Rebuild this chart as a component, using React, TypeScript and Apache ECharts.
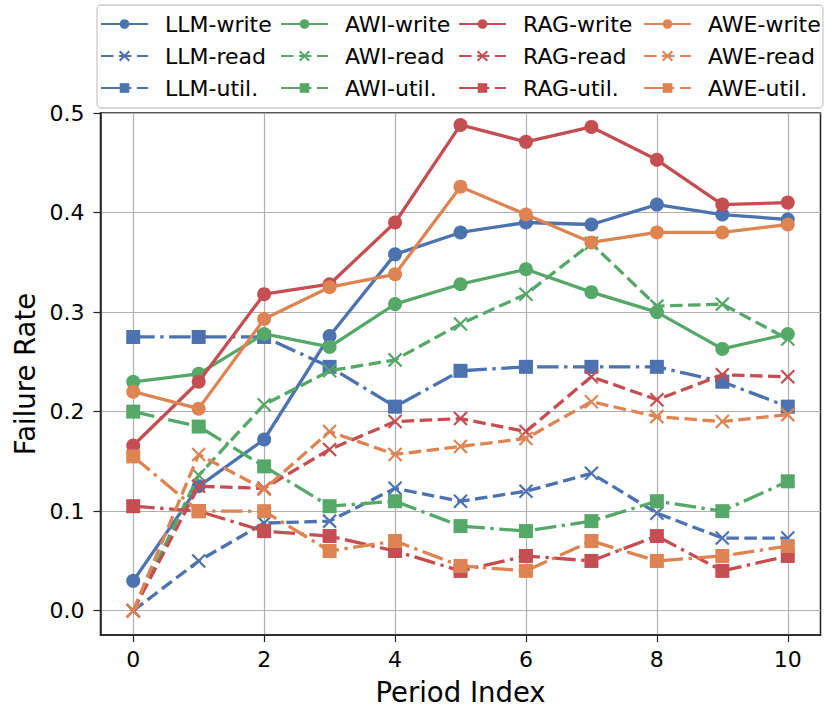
import React, { useEffect, useRef } from "react";
import * as echarts from "echarts";

const periods = [0, 1, 2, 3, 4, 5, 6, 7, 8, 9, 10];
const xTicks = [0, 2, 4, 6, 8, 10];
const yTicks = [0, 0.1, 0.2, 0.3, 0.4, 0.5];

const models = ["LLM", "AWI", "RAG", "AWE"];
const metrics = ["write", "read", "util."];

const llmWrite = [0.03, 0.125, 0.172, 0.276, 0.358, 0.38, 0.39, 0.388, 0.408, 0.398, 0.393];
const llmRead = [0.0, 0.05, 0.088, 0.09, 0.123, 0.11, 0.12, 0.138, 0.098, 0.073, 0.073];
const llmUtil = [0.275, 0.275, 0.275, 0.245, 0.205, 0.241, 0.245, 0.245, 0.245, 0.23, 0.205];

const awiWrite = [0.23, 0.238, 0.278, 0.265, 0.308, 0.328, 0.343, 0.32, 0.3, 0.263, 0.278];
const awiRead = [0.0, 0.136, 0.207, 0.241, 0.252, 0.288, 0.318, 0.369, 0.306, 0.308, 0.273];
const awiUtil = [0.2, 0.185, 0.145, 0.105, 0.11, 0.085, 0.08, 0.09, 0.11, 0.1, 0.13];

const ragWrite = [0.166, 0.23, 0.318, 0.328, 0.39, 0.488, 0.471, 0.486, 0.453, 0.408, 0.41];
const ragRead = [0.0, 0.125, 0.123, 0.162, 0.19, 0.193, 0.18, 0.235, 0.212, 0.237, 0.235];
const ragUtil = [0.105, 0.1, 0.08, 0.075, 0.06, 0.04, 0.055, 0.05, 0.075, 0.04, 0.055];

const aweWrite = [0.22, 0.203, 0.293, 0.325, 0.338, 0.426, 0.398, 0.37, 0.38, 0.38, 0.388];
const aweRead = [0.0, 0.157, 0.122, 0.18, 0.157, 0.165, 0.173, 0.21, 0.195, 0.19, 0.197];
const aweUtil = [0.155, 0.1, 0.1, 0.06, 0.07, 0.045, 0.04, 0.07, 0.05, 0.055, 0.065];

const values: Record<string, number[][]> = {
  LLM: [llmWrite, llmRead, llmUtil],
  AWI: [awiWrite, awiRead, awiUtil],
  RAG: [ragWrite, ragRead, ragUtil],
  AWE: [aweWrite, aweRead, aweUtil],
};

const colors: Record<string, string> = {
  LLM: "#4C72B0",
  AWI: "#55A868",
  RAG: "#C44E52",
  AWE: "#DD8452",
};

const FONT = "DejaVu Sans";
const X_SYMBOL = "path://M0,0L10,10M0,10L10,0";

export default function App() {
  const ref = useRef<HTMLDivElement>(null);

  useEffect(() => {
    if (!ref.current) return;
    const chart = echarts.init(ref.current, undefined, { renderer: "svg" });

    const series: any[] = [];
    let idx = 0;
    models.forEach((m) => {
      const c = colors[m];
      metrics.forEach((metric, k) => {
        const vals = values[m][k];
        const base: any = {
          name: `${m}-${metric}`,
          type: "line",
          data: periods.map((p, i) => [p, vals[i]]),
          z: 2 + idx * 0.01,
          color: c,
          showSymbol: true,
          emphasis: { disabled: true },
        };
        if (k === 0) {
          base.symbol = "circle";
          base.symbolSize = 14;
          base.lineStyle = { color: c, width: 3.3, type: "solid" };
          base.itemStyle = { color: c, borderWidth: 0 };
        } else if (k === 1) {
          base.symbol = X_SYMBOL;
          base.symbolSize = 13;
          base.lineStyle = { color: c, width: 3.3, type: [12.5, 5.5] };
          base.itemStyle = { color: c, borderColor: c, borderWidth: 2.2 };
        } else {
          base.symbol = "rect";
          base.symbolSize = 14;
          base.lineStyle = { color: c, width: 3.3, type: [21.5, 5.5, 3.4, 5.5] };
          base.itemStyle = { color: c, borderWidth: 0 };
        }
        series.push(base);
        idx++;
      });
    });

    const legendLefts = [100, 280, 458, 643];
    const legends = models.map((m, i) => ({
      orient: "vertical",
      left: legendLefts[i],
      top: 13,
      padding: 0,
      itemWidth: 47,
      itemHeight: 12,
      itemGap: 10,
      selectedMode: false,
      data: metrics.map((metric) => `${m}-${metric}`),
      textStyle: {
        fontFamily: FONT,
        fontSize: 22,
        lineHeight: 22,
        color: "#000",
        padding: [0, 0, 0, 12],
      },
    }));

    chart.setOption({
      animation: false,
      textStyle: { fontFamily: FONT },
      grid: {
        left: 100.5,
        right: 6.5,
        top: 113,
        bottom: 73.5,
        show: true,
        borderColor: "#222",
        borderWidth: 1.5,
        backgroundColor: "transparent",
      },
      graphic: [
        {
          type: "rect",
          z: 0,
          shape: { x: 97, y: 5, width: 726, height: 103, r: 4 },
          style: { fill: "rgba(255,255,255,0.8)", stroke: "#cccccc", lineWidth: 1.3 },
        },
      ],
      legend: legends,
      xAxis: {
        type: "value",
        min: -0.5,
        max: 10.5,
        minInterval: 2,
        maxInterval: 2,
        name: "Period Index",
        nameLocation: "middle",
        nameGap: 43,
        nameTextStyle: { fontFamily: FONT, fontSize: 27.5, color: "#000" },
        axisLine: { show: true, onZero: false, lineStyle: { color: "#222", width: 1.5 } },
        axisTick: { show: true, length: 7, customValues: xTicks, lineStyle: { color: "#222", width: 1.2 } },
        axisLabel: {
          customValues: xTicks,
          fontFamily: FONT,
          fontSize: 22,
          color: "#000",
          margin: 13,
        },
        splitLine: { show: true, lineStyle: { color: "#b0b0b0", width: 1.2 } },
      },
      yAxis: {
        type: "value",
        min: -0.0244,
        max: 0.5,
        minInterval: 0.1,
        maxInterval: 0.1,
        name: "Failure Rate",
        nameLocation: "middle",
        nameGap: 62,
        nameTextStyle: { fontFamily: FONT, fontSize: 27.5, color: "#000" },
        axisLine: { show: true, onZero: false, lineStyle: { color: "#222", width: 1.5 } },
        axisTick: { show: true, length: 7, customValues: yTicks, lineStyle: { color: "#222", width: 1.2 } },
        axisLabel: {
          customValues: yTicks,
          fontFamily: FONT,
          fontSize: 22,
          color: "#000",
          margin: 16,
          formatter: (v: number) => v.toFixed(1),
        },
        splitLine: { show: true, lineStyle: { color: "#b0b0b0", width: 1.2 } },
      },
      series,
    });

    return () => chart.dispose();
  }, []);

  return <div ref={ref} style={{ width: 827, height: 711, position: "absolute", left: 0, top: 0 }} />;
}
